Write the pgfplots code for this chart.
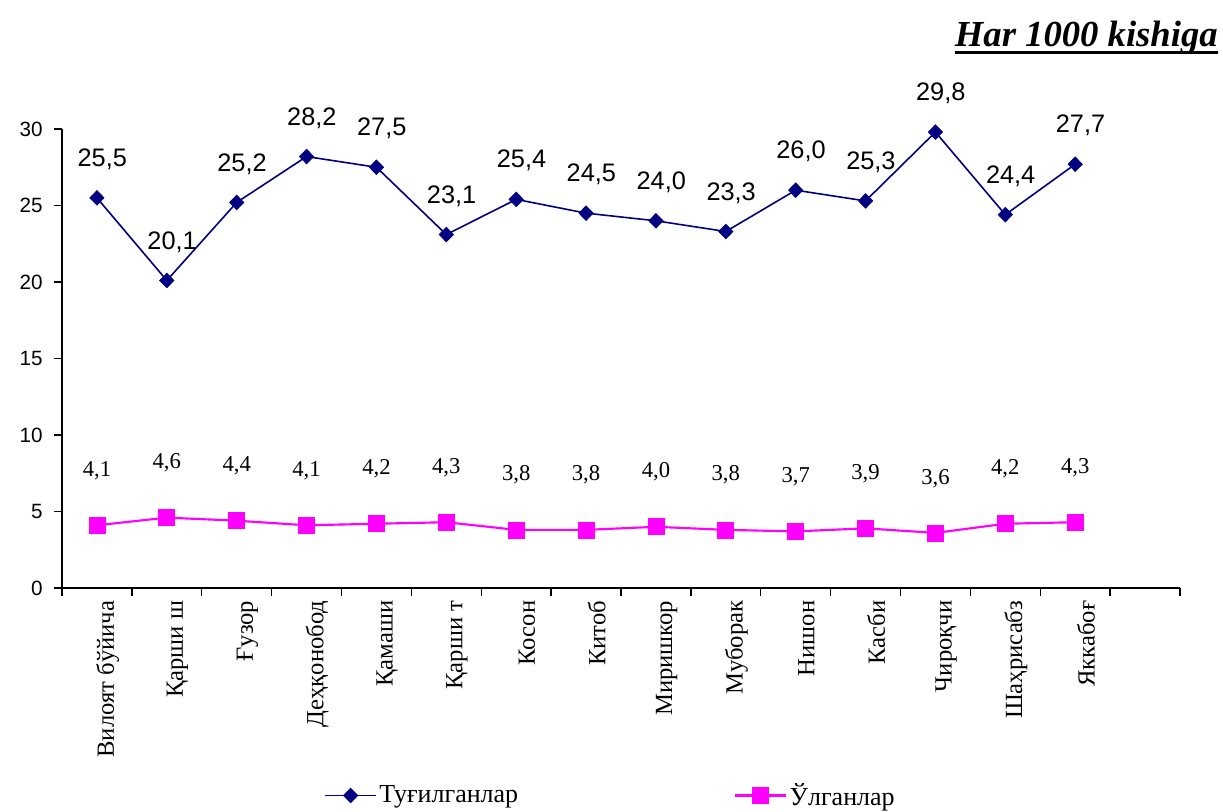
\documentclass[border=0pt]{standalone}
\usepackage{fontspec}
\setmainfont{Liberation Serif}
\newfontfamily\sansf{Liberation Sans}
\usepackage{pgfplots}
\usepackage{pgfplotstable}
\pgfplotsset{compat=1.18}
\definecolor{bnavy}{RGB}{0,0,128}
\definecolor{dmag}{RGB}{255,0,255}
\pgfplotstableread{
x b bl d dl
0 25.5 25,5 4.1 4,1
1 20.1 20,1 4.6 4,6
2 25.2 25,2 4.4 4,4
3 28.2 28,2 4.1 4,1
4 27.5 27,5 4.2 4,2
5 23.1 23,1 4.3 4,3
6 25.4 25,4 3.8 3,8
7 24.5 24,5 3.8 3,8
8 24.0 24,0 4.0 4,0
9 23.3 23,3 3.8 3,8
10 26.0 26,0 3.7 3,7
11 25.3 25,3 3.9 3,9
12 29.8 29,8 3.6 3,6
13 24.4 24,4 4.2 4,2
14 27.7 27,7 4.3 4,3
}\data
\begin{document}
\begin{tikzpicture}
\begin{axis}[
  scale only axis, width=838.5pt, height=344.25pt,
  xmin=-0.5, xmax=15.5, ymin=0, ymax=30,
  axis x line=bottom, axis y line=left,
  axis line style={line width=1.1pt,-,black},
  ytick={0,5,...,30},
  xtick={0,...,14},
  xticklabels={Вилоят бўйича, Қарши ш, Ғузор, Деҳқонобод, Қамаши, Қарши т, Косон, Китоб, Миришкор, Муборак, Нишон, Касби, Чироқчи, Шаҳрисабз, Яккабоғ},
  minor xtick={-0.5,0.5,...,15.5},
  major x tick style={draw=none},
  tick align=outside,
  major tick length=6pt, minor tick length=6pt,
  tick style={line width=1.1pt,black},
  xticklabel style={rotate=90, anchor=east, font=\fontsize{18.5}{20}\selectfont, yshift=-8pt},
  yticklabel style={font=\sansf\fontsize{15.5}{18}\selectfont, xshift=-5pt},
  /pgf/number format/assume math mode=true,
  legend style={draw=none, fill=none, at={(0.491,-0.452)}, anchor=center,
    legend columns=2, font=\fontsize{19.5}{22}\selectfont,
    /tikz/every even column/.append style={column sep=160pt}},
  legend image code/.code={\draw[mark repeat=2,mark phase=2] plot coordinates {(0pt,0pt) (19pt,0pt) (38pt,0pt)};},
  clip=false,
]
\addplot[bnavy, line width=1.2pt, mark=diamond*, mark size=5.5pt,
  mark options={fill=bnavy, draw=bnavy, line width=0.5pt, xscale=1.3},
  nodes near coords, point meta=explicit symbolic,
  every node near coord/.append style={anchor=center, yshift=29pt, xshift=4pt, text=black, font=\sansf\fontsize{19}{22}\selectfont}]
  table[x=x, y=b, meta=bl] {\data};
\addlegendentry{Туғилганлар}
\addplot[dmag, line width=1.6pt, mark=square*, mark size=6pt,
  mark options={fill=dmag, draw=dmag, line width=0.5pt},
  nodes near coords, point meta=explicit symbolic,
  every node near coord/.append style={anchor=center, yshift=41pt, text=black, font=\fontsize{17}{20}\selectfont}]
  table[x=x, y=d, meta=dl] {\data};
\addlegendentry{Ўлганлар}
\node[anchor=base east, inner sep=0pt, font=\bfseries\itshape\fontsize{27.5}{32}\selectfont] (t) at (axis description cs:1.034,1.18) {Har 1000 kishiga};
\draw[line width=2.6pt] ([yshift=-4.5pt]t.base west) -- ([yshift=-4.5pt]t.base east);
\end{axis}
\pgfresetboundingbox
\useasboundingbox (-46.5pt,-167.25pt) rectangle (870.75pt,441pt);
\end{tikzpicture}
\end{document}
